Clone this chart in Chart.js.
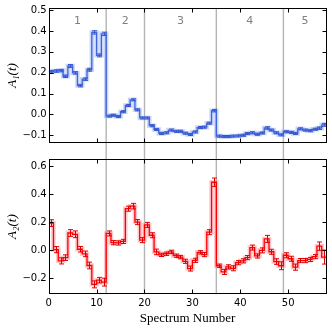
<!DOCTYPE html>
<html><head><meta charset="utf-8">
<script src="https://cdn.jsdelivr.net/npm/chart.js@4"></script>
<style>
html,body{margin:0;padding:0;background:#fff;}
#wrap{position:relative;width:332px;height:330px;overflow:hidden;}
canvas{position:absolute;left:0;}
</style></head><body>
<div id="wrap">
<canvas id="c1" width="332" height="151" style="top:0"></canvas>
<canvas id="c2" width="332" height="179" style="top:151px"></canvas>
</div>
<script>
// ---- data ----
const spectrumStart = [0,1,2,3,4,5,6,7,8,9,10,11,12,13,14,15,16,17,18,19,20,21,22,23,24,25,26,27,28,29,
  30,31,32,33,34,35,36,37,38,39,40,41,42,43,44,45,46,47,48,49,50,51,52,53,54,55,56,57];
const spectrumEnd = 58;
const a1Values = [0.205,0.208,0.210,0.183,0.232,0.199,0.138,0.169,0.214,0.393,0.283,0.386,
  -0.008,-0.004,-0.010,0.013,0.043,0.070,0.022,-0.017,-0.017,-0.054,-0.072,-0.091,-0.088,-0.075,
  -0.081,-0.081,-0.090,-0.096,-0.084,-0.063,-0.061,-0.042,0.018,-0.104,-0.106,-0.106,-0.104,-0.103,
  -0.100,-0.092,-0.088,-0.095,-0.089,-0.065,-0.075,-0.088,-0.098,-0.083,-0.086,-0.091,-0.069,-0.075,
  -0.078,-0.071,-0.066,-0.050];
const a1Errors = [0.006,0.006,0.006,0.006,0.007,0.006,0.006,0.006,0.007,0.008,0.007,0.008,
  0.005,0.005,0.005,0.005,0.005,0.005,0.005,0.005,0.005,0.005,0.005,0.005,0.005,0.005,
  0.005,0.005,0.005,0.005,0.005,0.005,0.005,0.005,0.006,0.005,0.005,0.005,0.005,0.005,
  0.005,0.005,0.005,0.005,0.005,0.006,0.005,0.005,0.005,0.005,0.005,0.005,0.005,0.005,
  0.005,0.005,0.006,0.007];
const a2Values = [0.195,0.005,-0.075,-0.052,0.124,0.115,0.008,-0.025,-0.108,-0.243,-0.213,-0.227,
  0.121,0.055,0.053,0.064,0.298,0.316,0.202,0.073,0.182,0.108,-0.011,-0.032,-0.024,-0.011,
  -0.038,-0.048,-0.078,-0.130,-0.071,-0.014,-0.030,0.130,0.487,-0.110,-0.154,-0.118,-0.128,-0.088,
  -0.075,-0.052,0.020,-0.040,0.000,0.082,-0.010,-0.080,-0.110,-0.035,-0.060,-0.120,-0.073,-0.073,
  -0.065,-0.045,0.030,-0.048];
const a2Errors = [0.024,0.022,0.022,0.020,0.024,0.024,0.020,0.020,0.024,0.025,0.020,0.028,
  0.018,0.015,0.015,0.015,0.018,0.020,0.018,0.018,0.018,0.018,0.020,0.012,0.012,0.012,
  0.012,0.012,0.015,0.018,0.015,0.012,0.015,0.018,0.030,0.012,0.018,0.015,0.018,0.015,
  0.015,0.015,0.018,0.015,0.018,0.025,0.018,0.020,0.028,0.018,0.018,0.022,0.015,0.015,
  0.015,0.015,0.030,0.050];
const regionBounds = [12, 20, 35, 49];
const regionLabels = ['1', '2', '3', '4', '5'];
const xTicks = [0, 10, 20, 30, 40, 50];
const y1Ticks = [-0.1, 0.0, 0.1, 0.2, 0.3, 0.4, 0.5];
const y2Ticks = [-0.2, 0.0, 0.2, 0.4, 0.6];

// ---- helpers ----
function stepPoints(vals) {
  const pts = spectrumStart.map((s, i) => ({x: s, y: vals[i]}));
  pts.push({x: spectrumEnd, y: vals[vals.length - 1]});
  return pts;
}
function fmt(v) { return v.toFixed(1).replace('-', '\u2212'); }
const tickFont = {family: 'DejaVu Sans', size: 10};

function deco(conf) {
  return {
    id: 'deco_' + conf.name,
    beforeDatasetsDraw(chart) {
      const {ctx, chartArea: a} = chart;
      const x = chart.scales.x;
      ctx.save();
      ctx.strokeStyle = '#b4b4b4';
      ctx.lineWidth = 1.4;
      const t = conf.top ? a.top : 0;
      const b = conf.top ? chart.height : a.bottom;
      regionBounds.forEach(v => {
        const px = x.getPixelForValue(v);
        ctx.beginPath(); ctx.moveTo(px, t); ctx.lineTo(px, b); ctx.stroke();
      });
      ctx.restore();
    },
    afterDatasetsDraw(chart) {
      const {ctx, chartArea: a} = chart;
      const x = chart.scales.x, y = chart.scales.y;
      ctx.save();
      // error bars
      ctx.strokeStyle = conf.errColor;
      ctx.lineWidth = 1;
      conf.values.forEach((v, i) => {
        const px = Math.round(x.getPixelForValue(spectrumStart[i] + 0.5)) + 0.5;
        const y1 = y.getPixelForValue(v + conf.errors[i]);
        const y2 = y.getPixelForValue(v - conf.errors[i]);
        ctx.beginPath();
        ctx.moveTo(px, y1); ctx.lineTo(px, y2);
        ctx.moveTo(px - 2.5, y1); ctx.lineTo(px + 2.5, y1);
        ctx.moveTo(px - 2.5, y2); ctx.lineTo(px + 2.5, y2);
        ctx.stroke();
      });
      // frame
      ctx.strokeStyle = '#000';
      ctx.lineWidth = 1;
      const L = Math.round(a.left) + 0.5, R = Math.round(a.right) - 0.5;
      const T = Math.round(a.top) + 0.5, B = Math.round(a.bottom) - 0.5;
      ctx.strokeRect(L, T, R - L, B - T);
      // inward ticks
      const tl = 4;
      ctx.beginPath();
      xTicks.forEach(v => {
        const px = Math.round(x.getPixelForValue(v)) + 0.5;
        ctx.moveTo(px, T); ctx.lineTo(px, T + tl);
        ctx.moveTo(px, B); ctx.lineTo(px, B - tl);
      });
      conf.yTicks.forEach(v => {
        const py = Math.round(y.getPixelForValue(v)) + 0.5;
        ctx.moveTo(L, py); ctx.lineTo(L + tl, py);
        ctx.moveTo(R, py); ctx.lineTo(R - tl, py);
      });
      ctx.stroke();
      // region labels
      if (conf.top) {
        ctx.fillStyle = '#808080';
        ctx.font = '11px "DejaVu Sans"';
        ctx.textAlign = 'center';
        ctx.textBaseline = 'middle';
        const edges = [0].concat(regionBounds, [spectrumEnd]);
        regionLabels.forEach((lab, i) => {
          const c = (edges[i] + edges[i + 1]) / 2;
          ctx.fillText(lab, x.getPixelForValue(c), a.top + 12.7);
        });
      }
      ctx.restore();
    }
  };
}

function lineSets(vals, band, line) {
  const pts = stepPoints(vals);
  return [
    {data: pts, borderColor: band, borderWidth: 4.5, stepped: true, pointRadius: 0, fill: false, clip: 0, order: 2},
    {data: pts, borderColor: line, borderWidth: 1.3, stepped: true, pointRadius: 0, fill: false, clip: 0, order: 1}
  ];
}

const common = {
  responsive: false, animation: false, devicePixelRatio: 1,
  plugins: {legend: {display: false}, tooltip: {enabled: false}}
};

new Chart(document.getElementById('c1'), {
  type: 'line',
  data: {datasets: lineSets(a1Values, 'rgba(90,130,240,0.32)', '#3f64de')},
  options: Object.assign({}, common, {
    layout: {padding: {top: 8, right: 5.5, bottom: 2.3, left: 0}},
    scales: {
      x: {type: 'linear', min: 0, max: spectrumEnd, display: false},
      y: {
        min: -0.137, max: 0.51,
        afterBuildTicks: s => { s.ticks = y1Ticks.map(v => ({value: v})); },
        afterFit: s => { s.width = 48.7; },
        ticks: {font: tickFont, color: '#000', padding: 2, callback: v => fmt(v)},
        grid: {display: false, drawTicks: false}, border: {display: false},
        title: {display: true, text: 'A\u2081(t)', color: '#000',
          font: {family: 'Liberation Serif', size: 13, style: 'italic'}, padding: {top: 5, bottom: 0}}
      }
    }
  }),
  plugins: [deco({name: 'top', top: true, values: a1Values, errors: a1Errors, errColor: '#3556cf', yTicks: y1Ticks})]
});

new Chart(document.getElementById('c2'), {
  type: 'line',
  data: {datasets: lineSets(a2Values, 'rgba(255,70,90,0.3)', '#ff0000')},
  options: Object.assign({}, common, {
    layout: {padding: {top: 2.3, right: 5.5, bottom: 0, left: 0}},
    scales: {
      x: {
        type: 'linear', min: 0, max: spectrumEnd,
        afterBuildTicks: s => { s.ticks = xTicks.map(v => ({value: v})); },
        afterFit: s => { s.height = 35.7; },
        ticks: {font: tickFont, color: '#000', padding: 3, maxRotation: 0, autoSkip: false},
        grid: {display: false, drawTicks: false}, border: {display: false},
        title: {display: true, text: 'Spectrum Number', color: '#000',
          font: {family: 'Liberation Serif', size: 13}, padding: {top: 0, bottom: 4}}
      },
      y: {
        min: -0.314, max: 0.653,
        afterBuildTicks: s => { s.ticks = y2Ticks.map(v => ({value: v})); },
        afterFit: s => { s.width = 48.7; },
        ticks: {font: tickFont, color: '#000', padding: 2, callback: v => fmt(v)},
        grid: {display: false, drawTicks: false}, border: {display: false},
        title: {display: true, text: 'A\u2082(t)', color: '#000',
          font: {family: 'Liberation Serif', size: 13, style: 'italic'}, padding: {top: 5, bottom: 0}}
      }
    }
  }),
  plugins: [deco({name: 'bot', top: false, values: a2Values, errors: a2Errors, errColor: '#e00000', yTicks: y2Ticks})]
});
</script>
</body></html>
